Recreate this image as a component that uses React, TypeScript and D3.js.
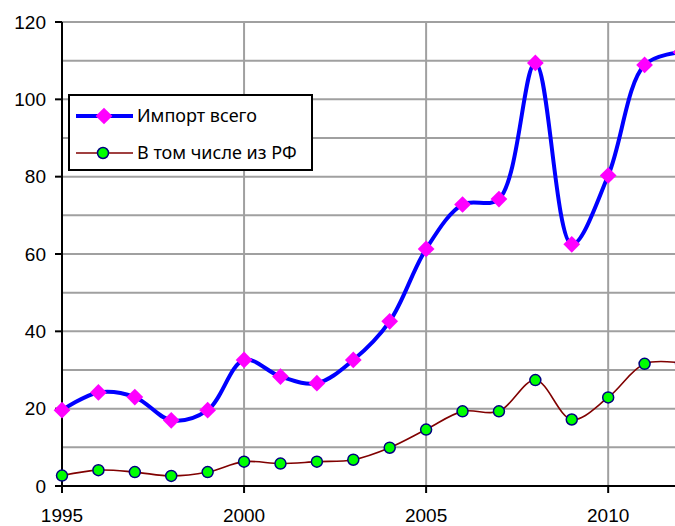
import { useRef, useEffect } from 'react';
import * as d3 from 'd3';

const YEARS = [1995, 1996, 1997, 1998, 1999, 2000, 2001, 2002, 2003, 2004, 2005, 2006, 2007, 2008, 2009, 2010, 2011, 2012];
const IMPORT_TOTAL = [19.6, 24.2, 23, 17, 19.6, 32.6, 28.3, 26.6, 32.6, 42.6, 61.3, 72.8, 74.2, 109.4, 62.5, 80.3, 108.9, 112.2];
const FROM_RF = [2.7, 4.1, 3.6, 2.6, 3.6, 6.3, 5.8, 6.3, 6.8, 9.9, 14.6, 19.3, 19.3, 27.4, 17.2, 22.9, 31.6, 31.8];
const Y_TICKS = [0, 20, 40, 60, 80, 100, 120];
const Y_GRID = [10, 20, 30, 40, 50, 60, 70, 80, 90, 100, 110, 120];
const X_TICKS = [1995, 2000, 2005, 2010];
const X_GRID = [2000, 2005, 2010];
const LEGEND = ['Импорт всего', 'В том числе из РФ'];

export default function App() {
  const svgRef = useRef<SVGSVGElement | null>(null);

  useEffect(() => {
    if (!svgRef.current) return;
    const width = 675;
    const height = 526;
    const svg = d3.select(svgRef.current).attr('width', width).attr('height', height);
    svg.selectAll('*').remove();

    const x = d3.scaleLinear().domain([1995, 2012]).range([62, 681]);
    const y = d3.scaleLinear().domain([0, 120]).range([486, 22]);
    const grid = '#a0a0a0';

    // gridlines
    svg.append('g').selectAll('line').data(Y_GRID).enter().append('line')
      .attr('x1', x(1995)).attr('x2', width)
      .attr('y1', d => y(d)).attr('y2', d => y(d))
      .attr('stroke', grid).attr('stroke-width', 2);
    svg.append('g').selectAll('line').data(X_GRID).enter().append('line')
      .attr('x1', d => x(d)).attr('x2', d => x(d))
      .attr('y1', y(120)).attr('y2', y(0))
      .attr('stroke', grid).attr('stroke-width', 2);

    // axes
    svg.append('line').attr('x1', x(1995)).attr('x2', x(1995)).attr('y1', y(120)).attr('y2', y(0))
      .attr('stroke', '#000').attr('stroke-width', 2);
    svg.append('line').attr('x1', x(1995) - 7).attr('x2', width).attr('y1', y(0)).attr('y2', y(0))
      .attr('stroke', '#000').attr('stroke-width', 2);

    const yt = svg.append('g');
    yt.selectAll('line').data(Y_TICKS).enter().append('line')
      .attr('x1', x(1995) - 7).attr('x2', x(1995))
      .attr('y1', d => y(d)).attr('y2', d => y(d))
      .attr('stroke', '#000').attr('stroke-width', 2);
    yt.selectAll('text').data(Y_TICKS).enter().append('text')
      .attr('x', 46).attr('y', d => y(d)).attr('dy', '0.35em')
      .attr('text-anchor', 'end').attr('font-family', 'Liberation Sans, Arial, sans-serif')
      .attr('font-size', 19).attr('fill', '#000').text(d => d);

    const xt = svg.append('g');
    xt.selectAll('line').data(X_TICKS).enter().append('line')
      .attr('x1', d => x(d)).attr('x2', d => x(d))
      .attr('y1', y(0)).attr('y2', y(0) + 7)
      .attr('stroke', '#000').attr('stroke-width', 2);
    xt.selectAll('text').data(X_TICKS).enter().append('text')
      .attr('x', d => x(d)).attr('y', 522)
      .attr('text-anchor', 'middle').attr('font-family', 'Liberation Sans, Arial, sans-serif')
      .attr('font-size', 19).attr('fill', '#000').text(d => d);

    const line = d3.line<number>()
      .x((_, i) => x(YEARS[i]))
      .y(d => y(d))
      .curve(d3.curveCatmullRom.alpha(0.5));

    // RF series
    svg.append('path').attr('d', line(FROM_RF)).attr('fill', 'none')
      .attr('stroke', '#800000').attr('stroke-width', 1.6);
    svg.append('g').selectAll('circle').data(FROM_RF).enter().append('circle')
      .attr('cx', (_, i) => x(YEARS[i])).attr('cy', d => y(d)).attr('r', 5.5)
      .attr('fill', '#00ff00').attr('stroke', '#000080').attr('stroke-width', 1.5);

    // total imports
    svg.append('path').attr('d', line(IMPORT_TOTAL)).attr('fill', 'none')
      .attr('stroke', '#0000ff').attr('stroke-width', 4);
    const diamond = d3.symbol().type(d3.symbolSquare).size(140);
    svg.append('g').selectAll('path').data(IMPORT_TOTAL).enter().append('path')
      .attr('d', diamond)
      .attr('transform', (d, i) => `translate(${x(YEARS[i])},${y(d)}) rotate(45)`)
      .attr('fill', '#ff00ff');

    // legend
    const lg = svg.append('g');
    lg.append('rect').attr('x', 69).attr('y', 95).attr('width', 243).attr('height', 75)
      .attr('fill', '#fff').attr('stroke', '#000').attr('stroke-width', 2);
    lg.append('line').attr('x1', 76).attr('x2', 133).attr('y1', 116).attr('y2', 116)
      .attr('stroke', '#0000ff').attr('stroke-width', 4);
    lg.append('path').attr('d', diamond).attr('transform', 'translate(104,116) rotate(45)').attr('fill', '#ff00ff');
    lg.append('line').attr('x1', 76).attr('x2', 133).attr('y1', 153).attr('y2', 153)
      .attr('stroke', '#800000').attr('stroke-width', 1.6);
    lg.append('circle').attr('cx', 103).attr('cy', 153).attr('r', 5.5)
      .attr('fill', '#00ff00').attr('stroke', '#000080').attr('stroke-width', 1.5);
    lg.selectAll('text').data(LEGEND).enter().append('text')
      .attr('x', 137).attr('y', (_, i) => (i === 0 ? 116 : 153)).attr('dy', '0.35em')
      .attr('font-family', 'Noto Sans, sans-serif').attr('font-size', 18)
      .attr('fill', '#000').text(d => d);
  }, []);

  return (
    <div style={{ position: 'fixed', left: 0, top: 0, width: 675, height: 526, background: '#fff' }}>
      <svg ref={svgRef} style={{ display: 'block' }} />
    </div>
  );
}
